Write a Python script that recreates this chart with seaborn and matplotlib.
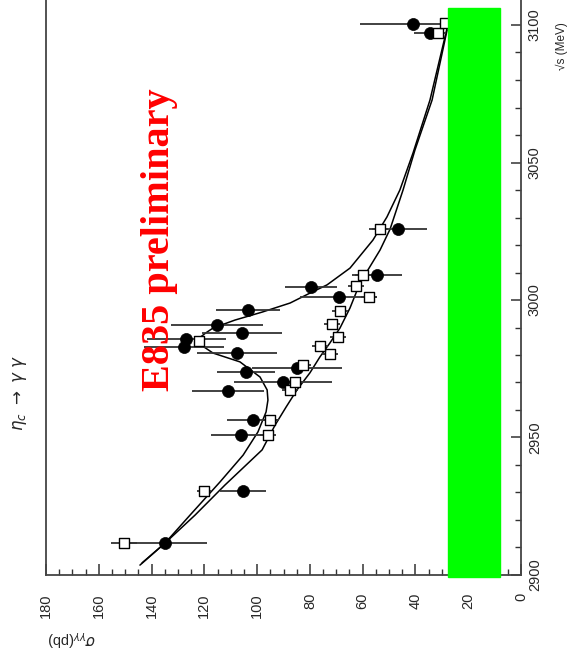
import numpy as np
import pandas as pd
import matplotlib
matplotlib.use("Agg")
import matplotlib.pyplot as plt
import seaborn as sns
from matplotlib.patches import Rectangle
from matplotlib.ticker import MultipleLocator

# filled circles: sqrt(s) [MeV], sigma [pb], error
circ_s = [2911.6, 2930.5, 2950.9, 2956.4, 2966.9, 2970.2, 2973.8, 2975.3, 2980.7, 2982.9,
          2985.8, 2988.0, 2990.9, 2996.4, 3001.1, 3004.7, 3009.1, 3025.8, 3097.1, 3100.4]
circ_sig = [134.9, 105.3, 106.1, 101.6, 111.0, 90.2, 104.2, 84.9, 107.6, 127.7,
            126.9, 105.7, 115.2, 103.4, 69.0, 79.6, 54.6, 46.6, 34.5, 40.9]
circ_err = [16, 8.7, 11.4, 10, 13.6, 18.4, 11, 17, 15, 15,
            15, 15, 17.6, 12, 14.6, 10, 9.5, 11, 6, 20]

# open squares
sq_s = [2911.6, 2930.5, 2950.9, 2956.4, 2967.3, 2970.2, 2976.4, 2980.4, 2983.3, 2985.1,
        2986.5, 2991.3, 2996.0, 3001.1, 3005.1, 3009.1, 3025.8, 3097.1, 3100.7]
sq_sig = [150.4, 120.1, 95.9, 95.1, 87.5, 85.6, 82.6, 72.4, 76.2, 122.0,
          69.3, 71.6, 68.6, 57.6, 62.5, 59.9, 53.4, 31.5, 28.8]
sq_err = [5, 2.5, 3, 3, 3, 3, 3, 3, 3, 2,
          3, 3, 3, 3, 3, 3, 3, 2, 2]

# fit curve with resonance
fitA_s = [2904.4, 2911.6, 2921.8, 2933.8, 2943.6, 2952.0, 2959.3, 2963.6, 2967.3, 2972.0,
          2977.5, 2980.7, 2983.6, 2985.8, 2988.0, 2989.8, 2992.7, 2995.6, 2998.9, 3002.5,
          3005.5, 3011.6, 3021.8, 3030.2, 3040.0, 3053.5, 3072.7, 3098.9]
fitA_sig = [143.6, 134.9, 125.4, 114.1, 105.3, 99.7, 96.6, 95.9, 96.2, 98.9,
            106.5, 116.7, 121.2, 122.4, 119.5, 116.7, 108.4, 98.1, 87.5, 80.0,
            73.5, 64.8, 56.1, 50.8, 45.9, 40.9, 34.5, 28.0]

# second fit curve
fitB_s = [2903.6, 2911.6, 2921.8, 2932.7, 2945.5, 2954.5, 2961.1, 2967.3, 2973.5, 2979.3,
          2984.4, 2989.8, 2997.1, 3006.2, 3018.2, 3025.8, 3040.0, 3054.5, 3072.7, 3098.2]
fitB_sig = [144.4, 134.9, 123.5, 112.2, 98.1, 93.2, 89.0, 84.9, 80.0, 76.2,
            72.4, 68.6, 64.8, 61.0, 53.4, 49.6, 44.7, 40.2, 33.7, 28.0]

sig_ticks = [0, 20, 40, 60, 80, 100, 120, 140, 160, 180]
s_ticks = [2900, 2950, 3000, 3050, 3100]

sns.set_style("ticks")
plt.rcParams["font.family"] = ["Liberation Sans", "DejaVu Sans"]

fig = plt.figure(figsize=(5.7, 6.59), dpi=100)
ax = fig.add_axes([46 / 570, 1 - 575 / 659, 475 / 570, 575 / 659])

fitA = pd.DataFrame({"s": fitA_s, "sig": fitA_sig})
fitB = pd.DataFrame({"s": fitB_s, "sig": fitB_sig})
sns.lineplot(data=fitA, x="sig", y="s", sort=False, estimator=None,
             color="black", lw=1.1, ax=ax)
sns.lineplot(data=fitB, x="sig", y="s", sort=False, estimator=None,
             color="black", lw=1.1, ax=ax)

ax.errorbar(circ_sig, circ_s, xerr=circ_err, fmt="none", ecolor="#333333",
            elinewidth=1.3, capsize=0, zorder=2)
ax.errorbar(sq_sig, sq_s, xerr=sq_err, fmt="none", ecolor="#333333",
            elinewidth=1.3, capsize=0, zorder=2)

circ = pd.DataFrame({"s": circ_s, "sig": circ_sig})
sq = pd.DataFrame({"s": sq_s, "sig": sq_sig})
sns.scatterplot(data=circ, x="sig", y="s", marker="o", s=75, color="black",
                edgecolor="black", linewidth=0.5, zorder=3, ax=ax)
sns.scatterplot(data=sq, x="sig", y="s", marker="s", s=50, facecolor="white",
                edgecolor="black", linewidth=1.0, zorder=4, ax=ax)

ax.set_xlim(180, 0)
ax.set_ylim(2900, 2900 + 575 / 2.75)
ax.set_xlabel("")
ax.set_ylabel("")

for side in ["left", "bottom", "right"]:
    ax.spines[side].set_visible(True)
    ax.spines[side].set_color("#444444")
    ax.spines[side].set_linewidth(1.3)
ax.spines["top"].set_visible(False)

ax.set_xticks(sig_ticks)
ax.xaxis.set_minor_locator(MultipleLocator(5))
ax.yaxis.tick_right()
ax.set_yticks(s_ticks)
ax.yaxis.set_minor_locator(MultipleLocator(10))
ax.tick_params(axis="x", which="major", direction="in", length=8, width=1.1,
               pad=13, labelsize=10.5, labelrotation=90, color="#333333")
ax.tick_params(axis="x", which="minor", direction="in", length=4, width=1.0,
               color="#333333")
ax.tick_params(axis="y", which="major", direction="in", length=7, width=1.1,
               pad=5, labelsize=10.5, labelrotation=90, color="#333333",
               left=False, right=True)
ax.tick_params(axis="y", which="minor", direction="in", length=4, width=1.0,
               color="#333333", left=False, right=True)
for lab in ax.get_yticklabels():
    lab.set_va("center")

fig.text(562 / 570, 1 - 70 / 659, "\u221as (MeV)", rotation=90,
         ha="center", va="bottom", fontsize=8.5)
fig.text(72 / 570, 1 - 638 / 659, r"$\sigma_{\gamma\gamma}$(pb)", rotation=180,
         ha="center", va="center", fontsize=10.5)
fig.text(20 / 570, 1 - 393 / 659, r"$\eta_c\ \rightarrow\ \gamma\ \gamma$",
         rotation=90, ha="center", va="center", fontsize=12)

fig.text(160 / 570, 1 - 240 / 659, "E835 preliminary", rotation=90,
         ha="center", va="center", color="red", fontsize=29,
         family=["Liberation Serif", "DejaVu Serif"], fontweight="bold")

fig.add_artist(Rectangle((448 / 570, 1 - 577 / 659), 52 / 570, 569 / 659,
                         transform=fig.transFigure, color="#00ff00", zorder=10))

fig.savefig("out.png", dpi=100)
